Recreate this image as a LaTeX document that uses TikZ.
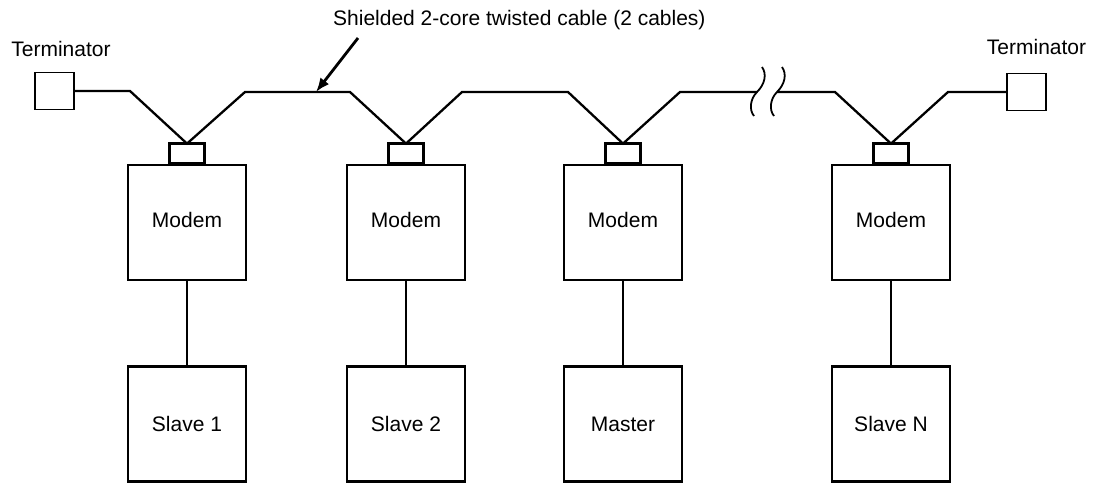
\documentclass[tikz,border=0pt]{standalone}
\usepackage{fontspec}
\setmainfont{Liberation Sans}
\usetikzlibrary{arrows.meta}
\begin{document}
\begin{tikzpicture}[x=1pt,y=-1pt,
  box/.style={draw,line width=2.8pt,minimum width=118pt,minimum height=115pt,inner sep=0pt},
  conn/.style={draw,line width=2.4pt,minimum width=35pt,minimum height=20pt,inner sep=0pt,outer sep=0pt,anchor=south},
  term/.style={draw,line width=1.8pt,minimum width=39pt,minimum height=37pt,inner sep=0pt},
  cable/.style={line width=2.3pt,line join=miter},
  brk/.style={line width=1.8pt},
  link/.style={line width=1.7pt},
  lbl/.style={font=\fontsize{21}{25}\selectfont,inner sep=0pt,anchor=base}]
\useasboundingbox (0,0) rectangle (1095,483);
% modems
\node[box] (m1) at (187,222.5) {};
\node[box] (m2) at (406,222.5) {};
\node[box] (m3) at (623,222.5) {};
\node[box] (m4) at (891,222.5) {};
\node[lbl] (m1t) at (187,227) {Modem};
\node[lbl] (m2t) at (406,227) {Modem};
\node[lbl] (m3t) at (623,227) {Modem};
\node[lbl] (m4t) at (891,227) {Modem};
% stations
\node[box] (s1) at (187,424) {};
\node[box] (s2) at (406,424) {};
\node[box] (s3) at (623,424) {};
\node[box] (s4) at (891,424) {};
\node[lbl] (s1t) at (187,431) {Slave 1};
\node[lbl] (s2t) at (406,431) {Slave 2};
\node[lbl] (s3t) at (623,431) {Master};
\node[lbl] (s4t) at (891,431) {Slave N};
% connectors
\node[conn] (c1) at (m1.north) {};
\node[conn] (c2) at (m2.north) {};
\node[conn] (c3) at (m3.north) {};
\node[conn] (c4) at (m4.north) {};
% terminators
\node[term] (tL) at (54.5,91) {};
\node[term] (tR) at (1026.5,92) {};
\node[lbl] (tLl) at (61,56) {Terminator};
\node[lbl] (tRl) at (1036.5,54) {Terminator};
\node[lbl,anchor=base west] (cl) at (333,25) {Shielded 2-core twisted cable (2 cables)};
% cable bends
\coordinate (a1) at (130,91);
\coordinate (a2) at (245,92);
\coordinate (a3) at (350,92);
\coordinate (a4) at (462,92);
\coordinate (a5) at (568,92);
\coordinate (a6) at (680,92);
\coordinate (b1) at (757,92);
\coordinate (b2) at (777,92);
\coordinate (a7) at (835,92);
\coordinate (a8) at (948,92);
\draw[cable] (tL.east) -- (a1) -- (c1.north) -- (a2) -- (a3) -- (c2.north) -- (a4) -- (a5) -- (c3.north) -- (a6) -- (b1);
\draw[cable] (b2) -- (a7) -- (c4.north) -- (a8) -- (tR.west);
% break marks
\draw[brk] (762,67) .. controls (767,74) and (765,84) .. (b1) .. controls (750,99) and (749,110) .. (754,116);
\draw[brk] (782,67) .. controls (787,74) and (785,84) .. (b2) .. controls (770,99) and (769,110) .. (774,116);
% arrow
\coordinate (arS) at (358,38);
\coordinate (arT) at (316,92);
\draw[line width=2.8pt,-{Latex[length=14pt,width=11pt]}] (arS) -- (arT);
% links
\draw[link] (m1) -- (s1);
\draw[link] (m2) -- (s2);
\draw[link] (m3) -- (s3);
\draw[link] (m4) -- (s4);
\end{tikzpicture}
\end{document}
